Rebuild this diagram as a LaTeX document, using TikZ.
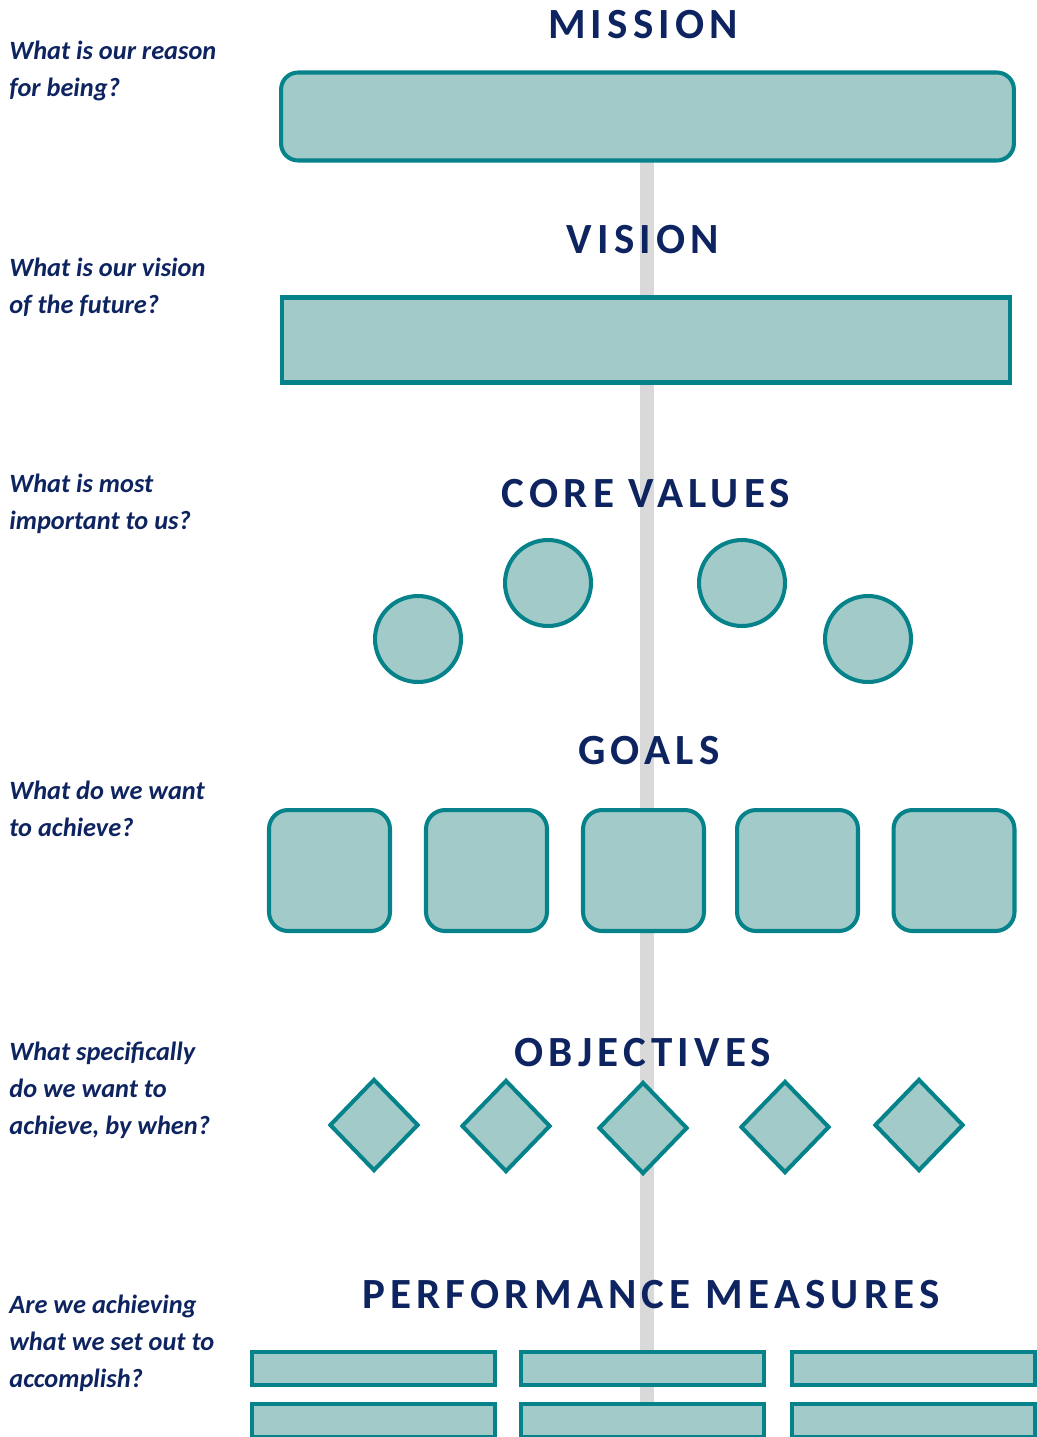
\documentclass[tikz,border=0pt]{standalone}
\usepackage{fontspec}
\setmainfont{Carlito}
\newfontfamily\headfam[LetterSpace=12]{Carlito}
\usepackage{tikz}
\usetikzlibrary{shapes.geometric}

\definecolor{navy}{RGB}{14,36,96}
\definecolor{tealline}{RGB}{6,131,138}
\definecolor{tealfill}{RGB}{162,202,200}
\definecolor{spinegray}{RGB}{217,217,217}

\tikzset{
  box/.style={draw=tealline, fill=tealfill, line width=2.3pt, inner sep=0pt},
  heading/.style={anchor=base, text=navy, font=\headfam\bfseries\fontsize{24.5}{28}\selectfont},
  question/.style={anchor=north west, inner sep=0pt, align=left, text=navy, font=\bfseries\itshape\fontsize{15}{21}\selectfont},
  spine/.style={draw=spinegray, line width=0.28cm}
}

\begin{document}
\begin{tikzpicture}[x=0.02cm,y=-0.02cm]
	\useasboundingbox (0,0) rectangle (1037,1437);
	
	% grey spine behind everything
	\coordinate (spinetop) at (647,160);
	\coordinate (spinebot) at (647,1402);
	\draw[spine] (spinetop) -- (spinebot);
	
	% questions
	\node[question] (qmission) at (9,41) {What is our reason\\for being?};
	\node[question] (qvision) at (9,258) {What is our vision\\of the future?};
	\node[question] (qvalues) at (9,474) {What is most\\important to us?};
	\node[question] (qgoals) at (9,781) {What do we want\\to achieve?};
	\node[question] (qobj) at (9,1042) {What specifically\\do we want to\\achieve, by when?};
	\node[question] (qpm) at (9,1295) {Are we achieving\\what we set out to\\accomplish?};
	
	% mission
	\node[heading] (hmission) at (643,38) {MISSION};
	\node[box, rounded corners=0.34cm, minimum width=14.66cm, minimum height=1.76cm] (mission) at (647.5,116.5) {};
	
	% vision
	\node[heading] (hvision) at (643,253) {VISION};
	\node[box, minimum width=14.58cm, minimum height=1.7cm] (vision) at (646,340) {};
	
	% core values
	\node[heading] (hvalues) at (646,507) {CORE VALUES};
	\node[box, circle, minimum size=1.72cm] (cv1) at (418,639) {};
	\node[box, circle, minimum size=1.72cm] (cv2) at (548,583) {};
	\node[box, circle, minimum size=1.72cm] (cv3) at (742,583) {};
	\node[box, circle, minimum size=1.72cm] (cv4) at (868,639) {};
	
	% goals
	\node[heading] (hgoals) at (649,764) {GOALS};
	\node[box, rounded corners=0.38cm, minimum size=2.42cm] (goal1) at (329.5,870.5) {};
	\node[box, rounded corners=0.38cm, minimum size=2.42cm] (goal2) at (486.5,870.5) {};
	\node[box, rounded corners=0.38cm, minimum size=2.42cm] (goal3) at (643.5,870.5) {};
	\node[box, rounded corners=0.38cm, minimum size=2.42cm] (goal4) at (797.5,870.5) {};
	\node[box, rounded corners=0.38cm, minimum size=2.42cm] (goal5) at (954,870.5) {};
	
	% objectives
	\node[heading] (hobj) at (643,1066) {OBJECTIVES};
	\node[box, diamond, minimum width=1.78cm, minimum height=1.84cm] (obj1) at (374,1125) {};
	\node[box, diamond, minimum width=1.78cm, minimum height=1.84cm] (obj2) at (506,1126) {};
	\node[box, diamond, minimum width=1.78cm, minimum height=1.84cm] (obj3) at (643,1128) {};
	\node[box, diamond, minimum width=1.78cm, minimum height=1.84cm] (obj4) at (785,1127) {};
	\node[box, diamond, minimum width=1.78cm, minimum height=1.84cm] (obj5) at (919,1125) {};
	
	% performance measures
	\node[heading] (hpm) at (651,1308) {PERFORMANCE MEASURES};
	\node[box, minimum width=4.86cm, minimum height=0.66cm] (pm11) at (373.5,1368.5) {};
	\node[box, minimum width=4.86cm, minimum height=0.66cm] (pm12) at (642.5,1368.5) {};
	\node[box, minimum width=4.86cm, minimum height=0.66cm] (pm13) at (913.5,1368.5) {};
	\node[box, minimum width=4.86cm, minimum height=0.66cm] (pm21) at (373.5,1420.5) {};
	\node[box, minimum width=4.86cm, minimum height=0.66cm] (pm22) at (642.5,1420.5) {};
	\node[box, minimum width=4.86cm, minimum height=0.66cm] (pm23) at (913.5,1420.5) {};
\end{tikzpicture}
\end{document}
